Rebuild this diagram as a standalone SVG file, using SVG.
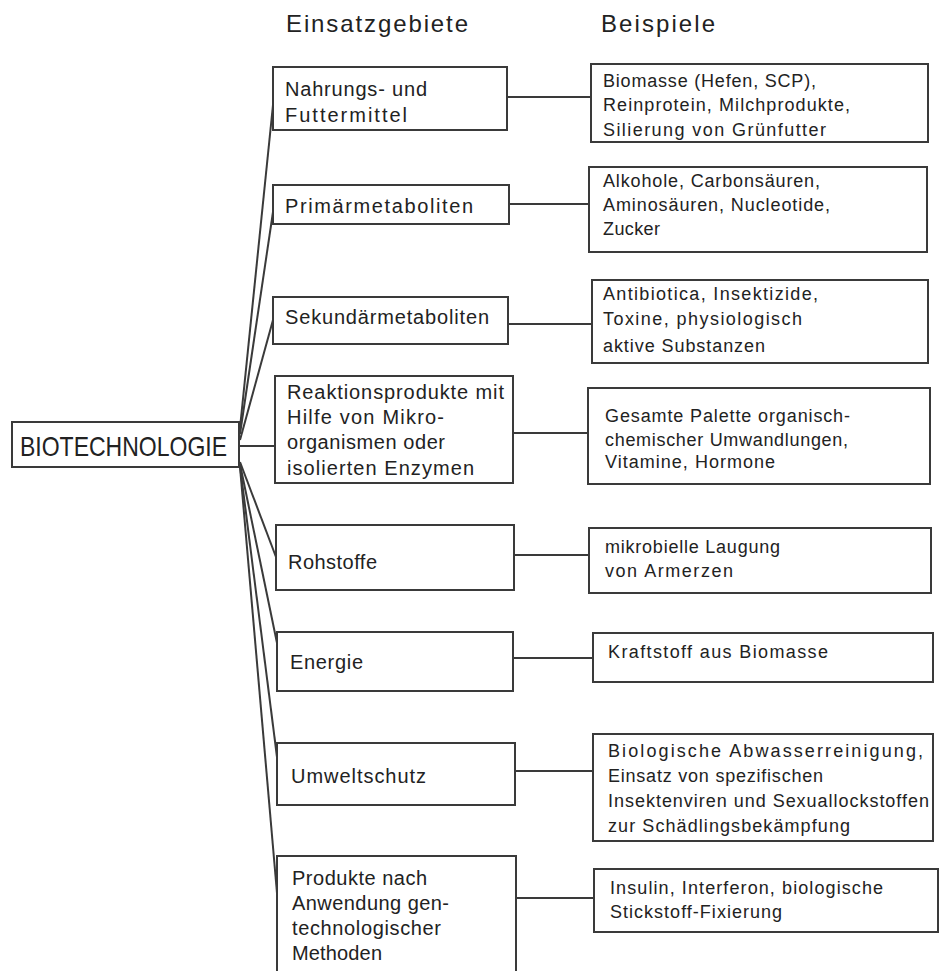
<svg xmlns="http://www.w3.org/2000/svg" width="944" height="971" viewBox="0 0 944 971">
<style>
.box{fill:#fff;stroke:#3a3a3a;stroke-width:2}
.ln{stroke:#3a3a3a;stroke-width:2;fill:none}
text{font-family:"Liberation Sans",Arial,Helvetica,sans-serif;fill:#222}
.h{font-size:24px}
.m{font-size:20px}
.r{font-size:18px}
.b{font-size:28px}
</style>
<rect width="944" height="971" fill="#fff"/>
<g id="headers">
<text class="h" x="286" y="32" textLength="182">Einsatzgebiete</text>
<text class="h" x="601" y="32" textLength="114">Beispiele</text>
</g>
<g id="connectors">
<line class="ln" x1="240" y1="428" x2="273" y2="105"/>
<line class="ln" x1="240" y1="434" x2="273" y2="212"/>
<line class="ln" x1="240" y1="440" x2="273" y2="320"/>
<line class="ln" x1="239" y1="446" x2="275" y2="446"/>
<line class="ln" x1="240" y1="462" x2="276" y2="557"/>
<line class="ln" x1="240" y1="464" x2="277" y2="643"/>
<line class="ln" x1="240" y1="466" x2="277" y2="757"/>
<line class="ln" x1="240" y1="467" x2="277" y2="893"/>
<line class="ln" x1="507" y1="97" x2="591" y2="97"/>
<line class="ln" x1="509" y1="204" x2="589" y2="204"/>
<line class="ln" x1="508" y1="324" x2="592" y2="324"/>
<line class="ln" x1="513" y1="433" x2="588" y2="433"/>
<line class="ln" x1="514" y1="555" x2="589" y2="555"/>
<line class="ln" x1="513" y1="658" x2="593" y2="658"/>
<line class="ln" x1="515" y1="771" x2="593" y2="771"/>
<line class="ln" x1="516" y1="898" x2="594" y2="898"/>
</g>
<g id="biotechnologie">
<rect class="box" x="12" y="422" width="227" height="45"/>
<text class="b" x="20" y="456" textLength="207" lengthAdjust="spacingAndGlyphs">BIOTECHNOLOGIE</text>
</g>
<g id="m1">
<rect class="box" x="273" y="67" width="234" height="63"/>
<text class="m" x="285" y="96" textLength="142">Nahrungs- und</text>
<text class="m" x="285" y="122" textLength="122">Futtermittel</text>
</g>
<g id="m2">
<rect class="box" x="273" y="185" width="236" height="39"/>
<text class="m" x="285" y="213" textLength="188">Primärmetaboliten</text>
</g>
<g id="m3">
<rect class="box" x="273" y="297" width="235" height="47"/>
<text class="m" x="285" y="324" textLength="204">Sekundärmetaboliten</text>
</g>
<g id="m4">
<rect class="box" x="275" y="376" width="238" height="107"/>
<text class="m" x="287" y="399" textLength="217">Reaktionsprodukte mit</text>
<text class="m" x="287" y="424" textLength="157">Hilfe von Mikro-</text>
<text class="m" x="287" y="449" textLength="158">organismen oder</text>
<text class="m" x="287" y="475" textLength="187">isolierten Enzymen</text>
</g>
<g id="m5">
<rect class="box" x="276" y="525" width="238" height="65"/>
<text class="m" x="288" y="569" textLength="89">Rohstoffe</text>
</g>
<g id="m6">
<rect class="box" x="277" y="632" width="236" height="59"/>
<text class="m" x="290" y="669" textLength="73">Energie</text>
</g>
<g id="m7">
<rect class="box" x="277" y="743" width="238" height="62"/>
<text class="m" x="291" y="783" textLength="135">Umweltschutz</text>
</g>
<g id="m8">
<rect class="box" x="277" y="856" width="239" height="130"/>
<text class="m" x="292" y="885" textLength="135">Produkte nach</text>
<text class="m" x="292" y="910" textLength="157">Anwendung gen-</text>
<text class="m" x="292" y="935" textLength="149">technologischer</text>
<text class="m" x="292" y="960" textLength="90">Methoden</text>
</g>
<g id="r1">
<rect class="box" x="591" y="64" width="337" height="78"/>
<text class="r" x="603" y="87" textLength="213">Biomasse (Hefen, SCP),</text>
<text class="r" x="603" y="111" textLength="247">Reinprotein, Milchprodukte,</text>
<text class="r" x="603" y="136" textLength="223">Silierung von Grünfutter</text>
</g>
<g id="r2">
<rect class="box" x="589" y="167" width="338" height="85"/>
<text class="r" x="603" y="187" textLength="217">Alkohole, Carbonsäuren,</text>
<text class="r" x="603" y="211" textLength="227">Aminosäuren, Nucleotide,</text>
<text class="r" x="603" y="235" textLength="57">Zucker</text>
</g>
<g id="r3">
<rect class="box" x="592" y="280" width="336" height="83"/>
<text class="r" x="603" y="300" textLength="215">Antibiotica, Insektizide,</text>
<text class="r" x="603" y="325" textLength="199">Toxine, physiologisch</text>
<text class="r" x="603" y="352" textLength="162">aktive Substanzen</text>
</g>
<g id="r4">
<rect class="box" x="588" y="388" width="342" height="96"/>
<text class="r" x="605" y="422" textLength="245">Gesamte Palette organisch-</text>
<text class="r" x="605" y="446" textLength="243">chemischer Umwandlungen,</text>
<text class="r" x="605" y="468" textLength="170">Vitamine, Hormone</text>
</g>
<g id="r5">
<rect class="box" x="589" y="528" width="342" height="65"/>
<text class="r" x="605" y="553" textLength="175">mikrobielle Laugung</text>
<text class="r" x="605" y="577" textLength="128">von Armerzen</text>
</g>
<g id="r6">
<rect class="box" x="593" y="633" width="340" height="49"/>
<text class="r" x="608" y="658" textLength="220">Kraftstoff aus Biomasse</text>
</g>
<g id="r7">
<rect class="box" x="593" y="734" width="340" height="107"/>
<text class="r" x="608" y="757" textLength="315">Biologische Abwasserreinigung,</text>
<text class="r" x="608" y="782" textLength="215">Einsatz von spezifischen</text>
<text class="r" x="608" y="807" textLength="321">Insektenviren und Sexuallockstoffen</text>
<text class="r" x="608" y="832" textLength="242">zur Schädlingsbekämpfung</text>
</g>
<g id="r8">
<rect class="box" x="594" y="869" width="344" height="63"/>
<text class="r" x="610" y="894" textLength="273">Insulin, Interferon, biologische</text>
<text class="r" x="610" y="918" textLength="172">Stickstoff-Fixierung</text>
</g>
</svg>
